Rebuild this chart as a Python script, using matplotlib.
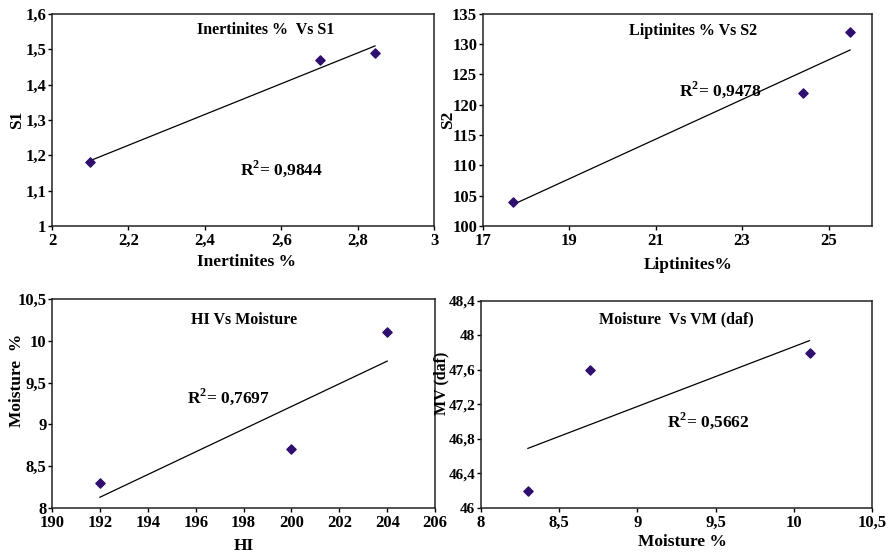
import numpy as np
import matplotlib
matplotlib.use("Agg")
import matplotlib.pyplot as plt
from matplotlib.ticker import FuncFormatter, MultipleLocator, FixedLocator

plt.rcParams['font.family'] = ['Liberation Serif', 'DejaVu Serif']
plt.rcParams['font.weight'] = 'bold'
plt.rcParams['mathtext.fontset'] = 'custom'
plt.rcParams['mathtext.rm'] = 'Liberation Serif:bold'
plt.rcParams['mathtext.bf'] = 'Liberation Serif:bold'

# data
inert = [2.1, 2.7, 2.845]
s1 = [1.18, 1.47, 1.49]

lipt = [17.7, 24.4, 25.5]
s2 = [104, 122, 132]

hi = [192, 200, 204]
moist = [8.3, 8.7, 10.1]

moist2 = [8.3, 8.7, 10.1]
vm = [46.2, 47.6, 47.8]

r2_vals = ["0,9844", "0,9478", "0,7697", "0,5662"]
titles = ["Inertinites %  Vs S1", "Liptinites % Vs S2", "HI Vs Moisture", "Moisture  Vs VM (daf)"]
xlabels = ["Inertinites %", "Liptinites%", "HI", "Moisture %"]
ylabels = ["S1", "S2", "Moisture  %", "MV (daf)"]
xticks = [np.arange(2, 3.01, 0.2), [17, 19, 21, 23, 25], np.arange(190, 207, 2), np.arange(8, 10.51, 0.5)]

marker_col = "#2e0f6e"

fig = plt.figure(figsize=(8.89, 5.55), dpi=100)

positions = [
    [0.0585, 0.593, 0.430, 0.382],
    [0.543, 0.593, 0.4376, 0.382],
    [0.0585, 0.0847, 0.431, 0.3766],
    [0.541, 0.0847, 0.440, 0.373],
]
xlims = [(2, 3), (17, 26), (190, 206), (8, 10.5)]
ylims = [(1, 1.6), (100, 135), (8, 10.5), (46, 48.4)]
ysteps = [0.1, 5, 0.5, 0.4]
title_pos = [(0.56, 0.925), (0.54, 0.92), (0.50, 0.90), (0.50, 0.91)]
r2_pos = [(0.60, 0.27), (0.61, 0.64), (0.46, 0.53), (0.58, 0.42)]
ylab_xy = [(-0.092, 0.5), (-0.09, 0.5), (-0.091, 0.61), (-0.1, 0.6)]
xlab_xy = [(0.51, -0.17), (0.527, -0.184), (0.50, -0.18), (0.514, -0.164)]
ytick_size = [12, 12, 12, 11]
ylab_size = [12.5, 12.5, 12.5, 11.5]

datasets = [(inert, s1), (lipt, s2), (hi, moist), (moist2, vm)]

def comma(v, pos):
    s = ("%.2f" % v).rstrip('0').rstrip('.')
    return s.replace('.', ',')

for i, (x, y) in enumerate(datasets):
    ax = fig.add_axes(positions[i])
    x = np.array(x)
    y = np.array(y)
    k, b = np.polyfit(x, y, 1)
    xx = np.array([x.min(), x.max()])
    ax.plot(xx, k * xx + b, color='black', lw=0.9)
    ax.scatter(x, y, marker='D', s=22, color=marker_col, zorder=3)
    ax.set_xlim(*xlims[i])
    ax.set_ylim(*ylims[i])
    ax.xaxis.set_major_locator(FixedLocator(xticks[i]))
    ax.yaxis.set_major_locator(MultipleLocator(ysteps[i]))
    ax.xaxis.set_major_formatter(FuncFormatter(comma))
    ax.yaxis.set_major_formatter(FuncFormatter(comma))
    ax.tick_params(direction='out', length=3, width=1, pad=1)
    ax.tick_params(axis='x', pad=2, labelsize=12)
    ax.tick_params(axis='y', labelsize=ytick_size[i])
    for sp in ax.spines.values():
        sp.set_linewidth(1.1)
        sp.set_color('#222222')
    ax.set_xlabel(xlabels[i], fontsize=12.5, fontweight='bold')
    ax.set_ylabel(ylabels[i], fontsize=ylab_size[i], fontweight='bold')
    ax.xaxis.set_label_coords(*xlab_xy[i])
    ax.yaxis.set_label_coords(*ylab_xy[i])
    ax.xaxis.label.set_va('center')
    ax.yaxis.label.set_va('center')
    ax.text(title_pos[i][0], title_pos[i][1], titles[i], transform=ax.transAxes,
            ha='center', va='center', fontsize=11.5, fontweight='bold')
    ax.text(r2_pos[i][0], r2_pos[i][1], "R$^{2}$= " + r2_vals[i], transform=ax.transAxes,
            ha='center', va='center', fontsize=12.5, fontweight='bold')

fig.savefig("out.png", dpi=100)
